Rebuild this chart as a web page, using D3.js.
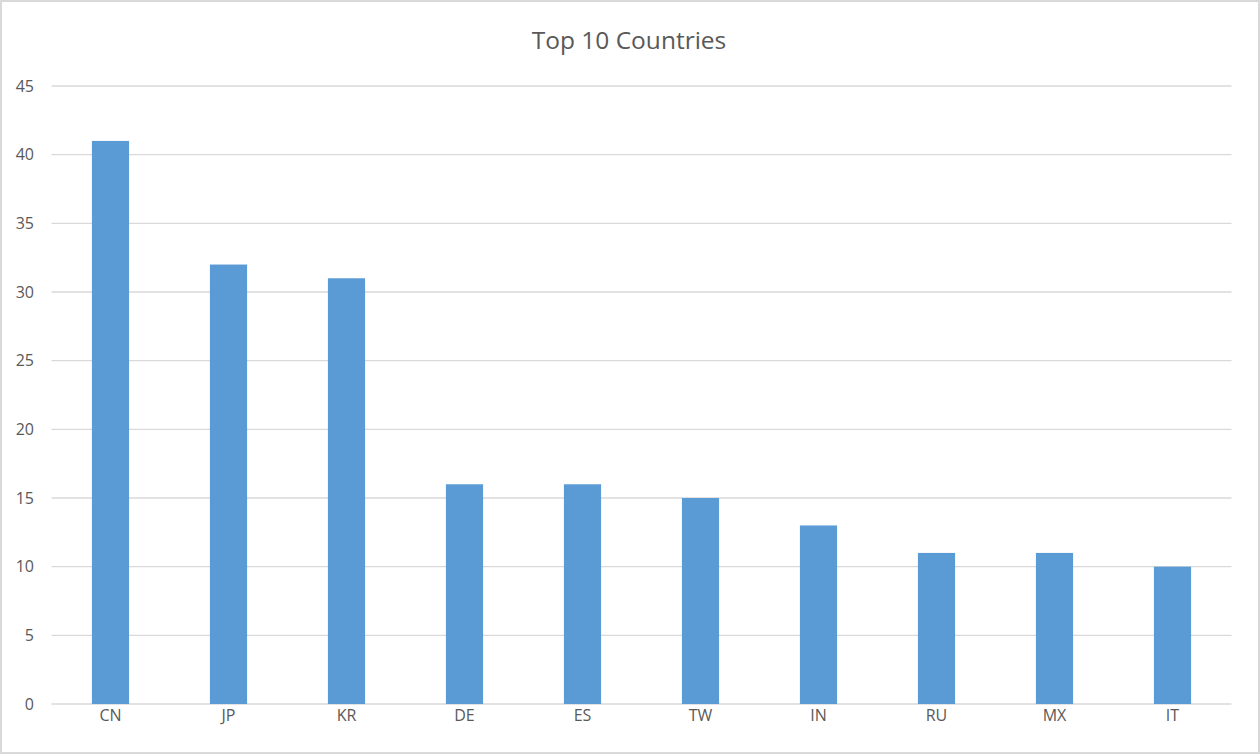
<!DOCTYPE html>
<html>
<head>
<meta charset="utf-8">
<script src="https://cdn.jsdelivr.net/npm/d3@7"></script>
<style>
html,body{margin:0;padding:0;background:#fff;}
svg{display:block;}
</style>
</head>
<body>
<svg id="chart" width="1260" height="754"></svg>
<script>
const categories = ["CN","JP","KR","DE","ES","TW","IN","RU","MX","IT"];
const values = [41,32,31,16,16,15,13,11,11,10];
const yTicks = [0,5,10,15,20,25,30,35,40,45];
const title = "Top 10 Countries";

const svg = d3.select("#chart");
const W = 1260, H = 754;
const font = "'Open Sans', 'Noto Sans', sans-serif";

svg.append("rect").attr("x",1).attr("y",1).attr("width",W-2).attr("height",H-2)
  .attr("fill","#fff").attr("stroke","#d9d9d9").attr("stroke-width",2);

const x = d3.scaleBand().domain(categories).range([51.5,1231.5]).padding(0);
const y = d3.scaleLinear().domain([0,45]).range([704,86]);

// gridlines
svg.append("g").selectAll("line").data(yTicks).join("line")
  .attr("x1",51.5).attr("x2",1231.5)
  .attr("y1",d=>y(d)).attr("y2",d=>y(d))
  .attr("stroke","#d9d9d9").attr("stroke-width",1.3);

// y axis labels
const yAxis = d3.axisLeft(y).tickValues(yTicks).tickSize(0).tickPadding(0);
const gy = svg.append("g").attr("transform","translate(34,0)").call(yAxis);
gy.select(".domain").remove();
gy.selectAll("text").attr("font-family",font).attr("font-size",16).attr("fill","#595959");

// bars
const bw = x.bandwidth()*0.315;
svg.append("g").selectAll("rect").data(categories).join("rect")
  .attr("x",(d)=>x(d)+x.bandwidth()/2-bw/2)
  .attr("width",bw)
  .attr("y",(d,i)=>y(values[i]))
  .attr("height",(d,i)=>y(0)-y(values[i]))
  .attr("fill","#5b9bd5");

// x axis labels
const xAxis = d3.axisBottom(x).tickSize(0).tickPadding(0);
const gx = svg.append("g").attr("transform","translate(0,710)").call(xAxis);
gx.select(".domain").remove();
gx.selectAll("text").attr("font-family",font).attr("font-size",16).attr("fill","#595959");

svg.append("text").attr("x",629).attr("y",49).attr("text-anchor","middle")
  .attr("font-family",font).attr("font-size",24.5).attr("fill","#595959").text(title);
</script>
</body>
</html>
